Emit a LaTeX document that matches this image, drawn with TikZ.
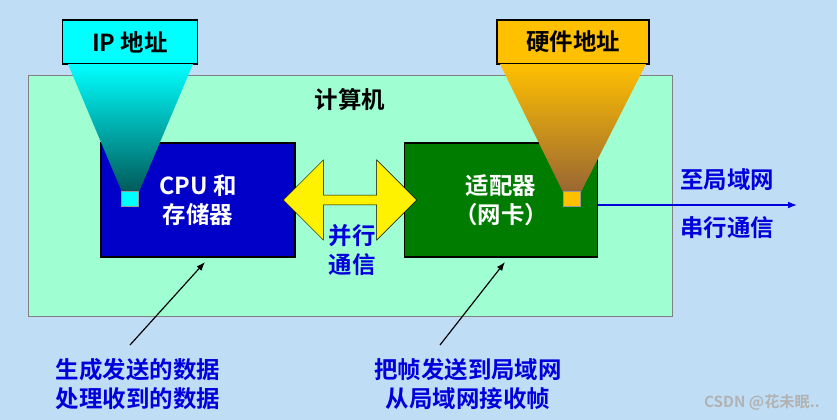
\documentclass[tikz,border=0pt]{standalone}
\usepackage{fontspec}
\newfontfamily\cjk{Noto Sans CJK SC Bold}
\usetikzlibrary{arrows.meta,shapes.arrows}
\definecolor{bgblue}{RGB}{191,222,245}
\definecolor{mint}{RGB}{160,255,210}
\definecolor{cpublue}{RGB}{0,0,200}
\definecolor{nicgreen}{RGB}{0,125,0}
\definecolor{txtblue}{RGB}{0,0,220}
\definecolor{hwgold}{RGB}{255,192,0}
\definecolor{ipcyan}{RGB}{0,255,255}
\tikzset{
  lbl/.style={font=\cjk\fontsize{20}{25}\selectfont, text=txtblue, align=center},
  unit/.style={draw=black, line width=1.2pt, font=\cjk\fontsize{20}{25}\selectfont, text=white, align=center},
  tag/.style={draw=black, line width=1pt, font=\cjk\fontsize{20}{24}\selectfont, minimum height=1.32cm},
}
\begin{document}
\begin{tikzpicture}[x=0.03cm,y=-0.03cm,>=Latex]
  \fill[bgblue] (0,0) rectangle (837,420);
  \useasboundingbox (0,0) rectangle (837,420);

  % computer
  \draw[fill=mint,draw=gray] (28,75) rectangle (672,316);
  \node[lbl,text=black] (title) at (350,100) {计算机};

  \node[unit,fill=cpublue,minimum width=5.82cm,minimum height=3.42cm] (cpu) at (198,200) {CPU 和\\存储器};
  \node[unit,fill=nicgreen,minimum width=5.79cm,minimum height=3.42cm] (nic) at (501,200) {适配器\\（网卡）};

  \node[double arrow, draw=black, fill=yellow, minimum width=2.4cm, double arrow head extend=0.05cm,
        minimum height=4.0cm, inner sep=0pt] (bus) at (350,200) {};
  \node[lbl] (par) at (352,250) {并行\\通信};

  % address tags
  \node[tag,fill=ipcyan,minimum width=4.05cm] (ip) at (130,42) {IP 地址};
  \node[tag,fill=hwgold,minimum width=4.56cm] (hw) at (573,42) {硬件地址};
  \shade[top color=ipcyan, bottom color=teal!70!black] (68,64) -- (193,64) -- (139,192) -- (122,192) -- cycle;
  \shade[top color=hwgold, bottom color=brown!80!black] (500,64) -- (646,64) -- (581,192) -- (563,192) -- cycle;
  \node[draw=black!40,fill=ipcyan,minimum width=0.5cm,minimum height=0.45cm,inner sep=0pt] (ipsq) at (130,199) {};
  \node[draw=black!40,fill=hwgold,minimum width=0.5cm,minimum height=0.45cm,inner sep=0pt] (hwsq) at (572,199) {};

  % link
  \coordinate (lan) at (797,205);
  \draw[->,txtblue,line width=1pt] (nic.east |- lan) -- (lan);
  \node[lbl] (to) at (727,180) {至局域网};
  \node[lbl] (ser) at (727,228) {串行通信};

  % notes
  \node[lbl] (cpunote) at (138,384) {生成发送的数据\\处理收到的数据};
  \node[lbl] (nicnote) at (468,384) {把帧发送到局域网\\从局域网接收帧};
  \coordinate (cpupt) at (205,262);
  \coordinate (nicpt) at (505,262);
  \coordinate (c1) at (130,345);
  \coordinate (n1) at (440,345);
  \draw[->,line width=1pt] (c1) -- (cpupt);
  \draw[->,line width=1pt] (n1) -- (nicpt);

  \node[text=gray!60,font=\fontsize{13}{15}\selectfont\cjk] (mark) at (762,402) {CSDN @花未眠..};
\end{tikzpicture}
\end{document}
